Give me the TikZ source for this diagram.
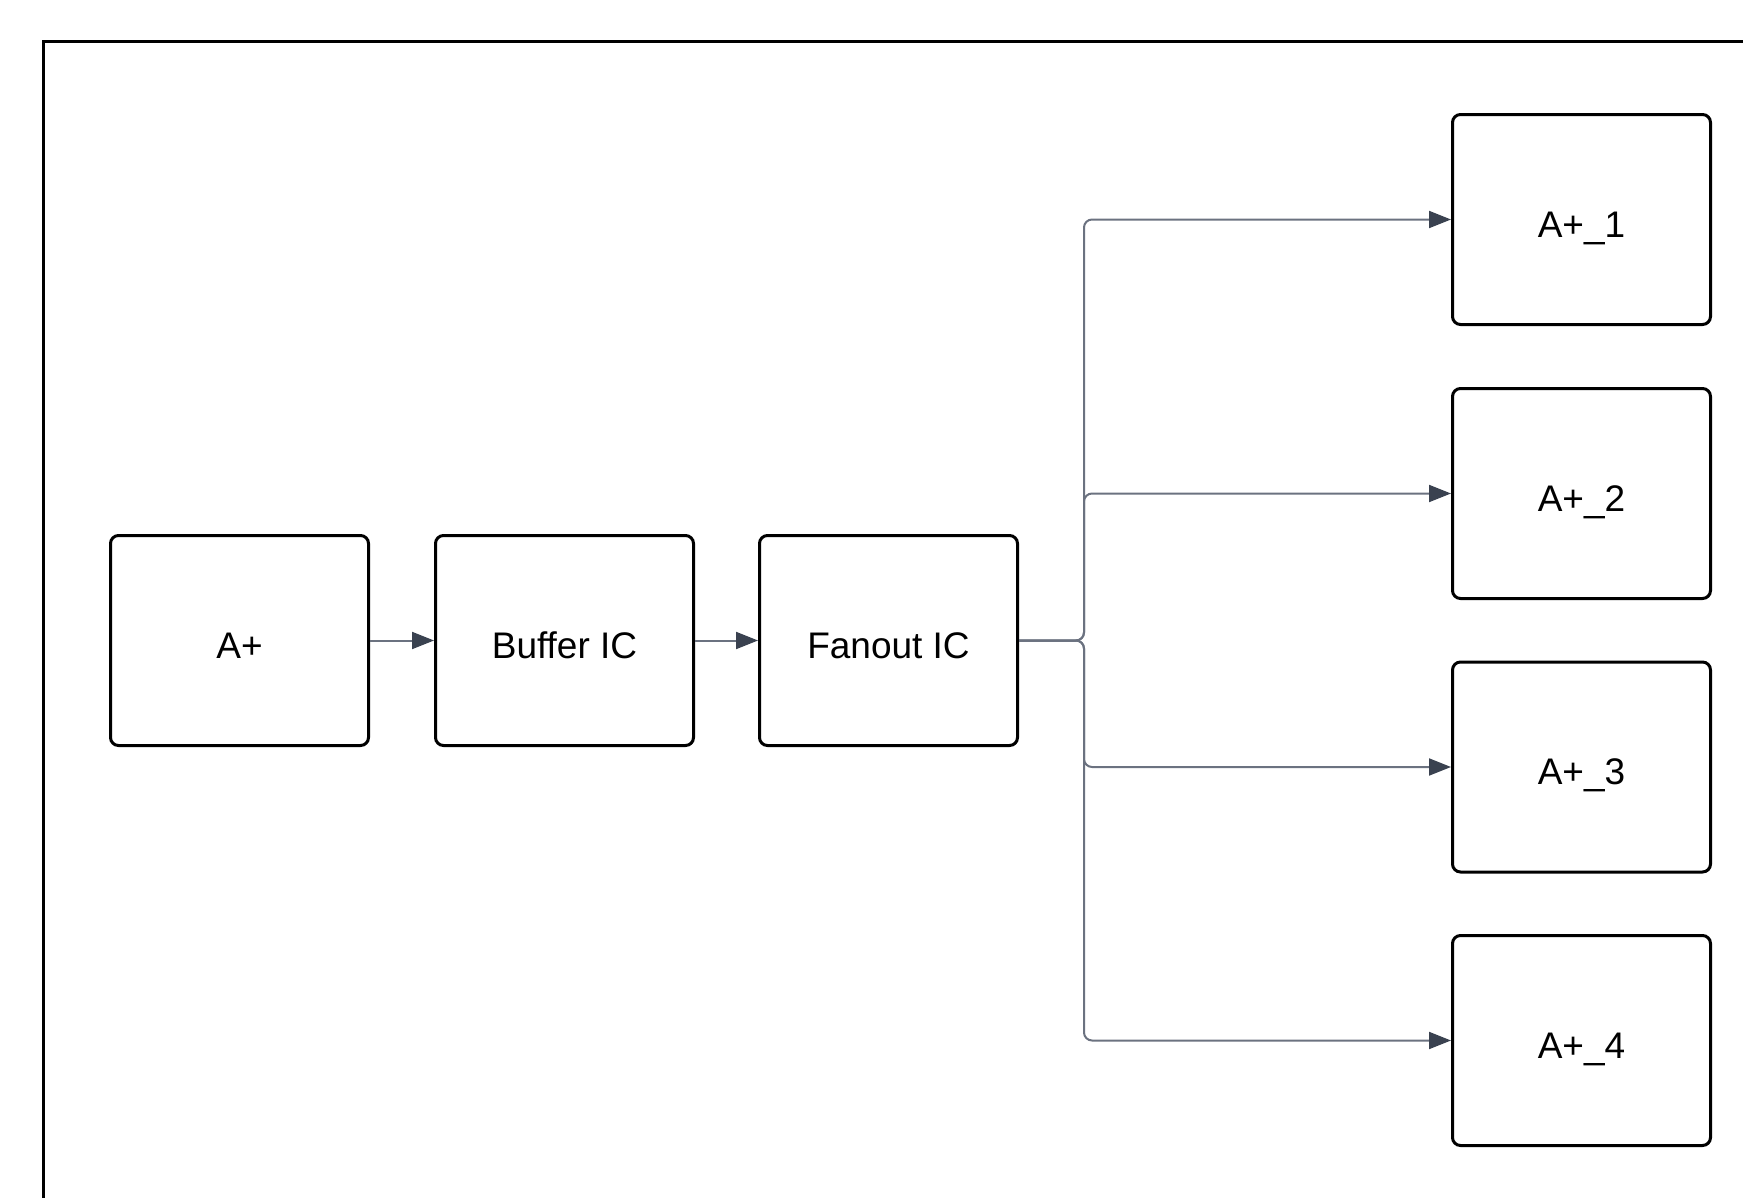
\documentclass[tikz,border=0pt]{standalone}
\usepackage{fontspec}
\setmainfont{Liberation Sans}
\usetikzlibrary{arrows.meta}
\definecolor{conncol}{HTML}{6B7280}
\definecolor{tipcol}{HTML}{3A4250}
\tikzset{
  box/.style={draw=black, line width=3pt, rounded corners=8pt, minimum width=258pt, minimum height=210pt, inner sep=0pt, text height=35pt, text depth=0pt, font=\fontsize{37}{44}\selectfont, fill=white},
  conn/.style={draw=conncol, line width=2pt, rounded corners=8pt, -{Triangle[length=22pt,width=17pt,fill=tipcol,color=tipcol]}},
}
\begin{document}
\begin{tikzpicture}[x=1pt,y=-1pt]
\useasboundingbox (0,0) rectangle (1743,1197);
\draw[line width=3pt, black] (43,1200) -- (43,41) -- (1746,41);
\node[box] (a) at (239.5,640.5) {A+};
\node[box] (buf) at (564.5,640.5) {Buffer IC};
\node[box] (fan) at (888.5,640.5) {Fanout IC};
\node[box] (o1) at (1581.5,219.5) {A+\_1};
\node[box] (o2) at (1581.5,493.5) {A+\_2};
\node[box] (o3) at (1581.5,767) {A+\_3};
\node[box] (o4) at (1581.5,1040.5) {A+\_4};
\coordinate (bx) at (1084,640.5);
\draw[conn] (a.east) -- (buf.west);
\draw[conn] (buf.east) -- (fan.west);
\foreach \t in {o1,o2,o3,o4}{
  \draw[conn] (fan.east) -- (bx) -- (bx |- \t.west) -- (\t.west);
}
\end{tikzpicture}
\end{document}
